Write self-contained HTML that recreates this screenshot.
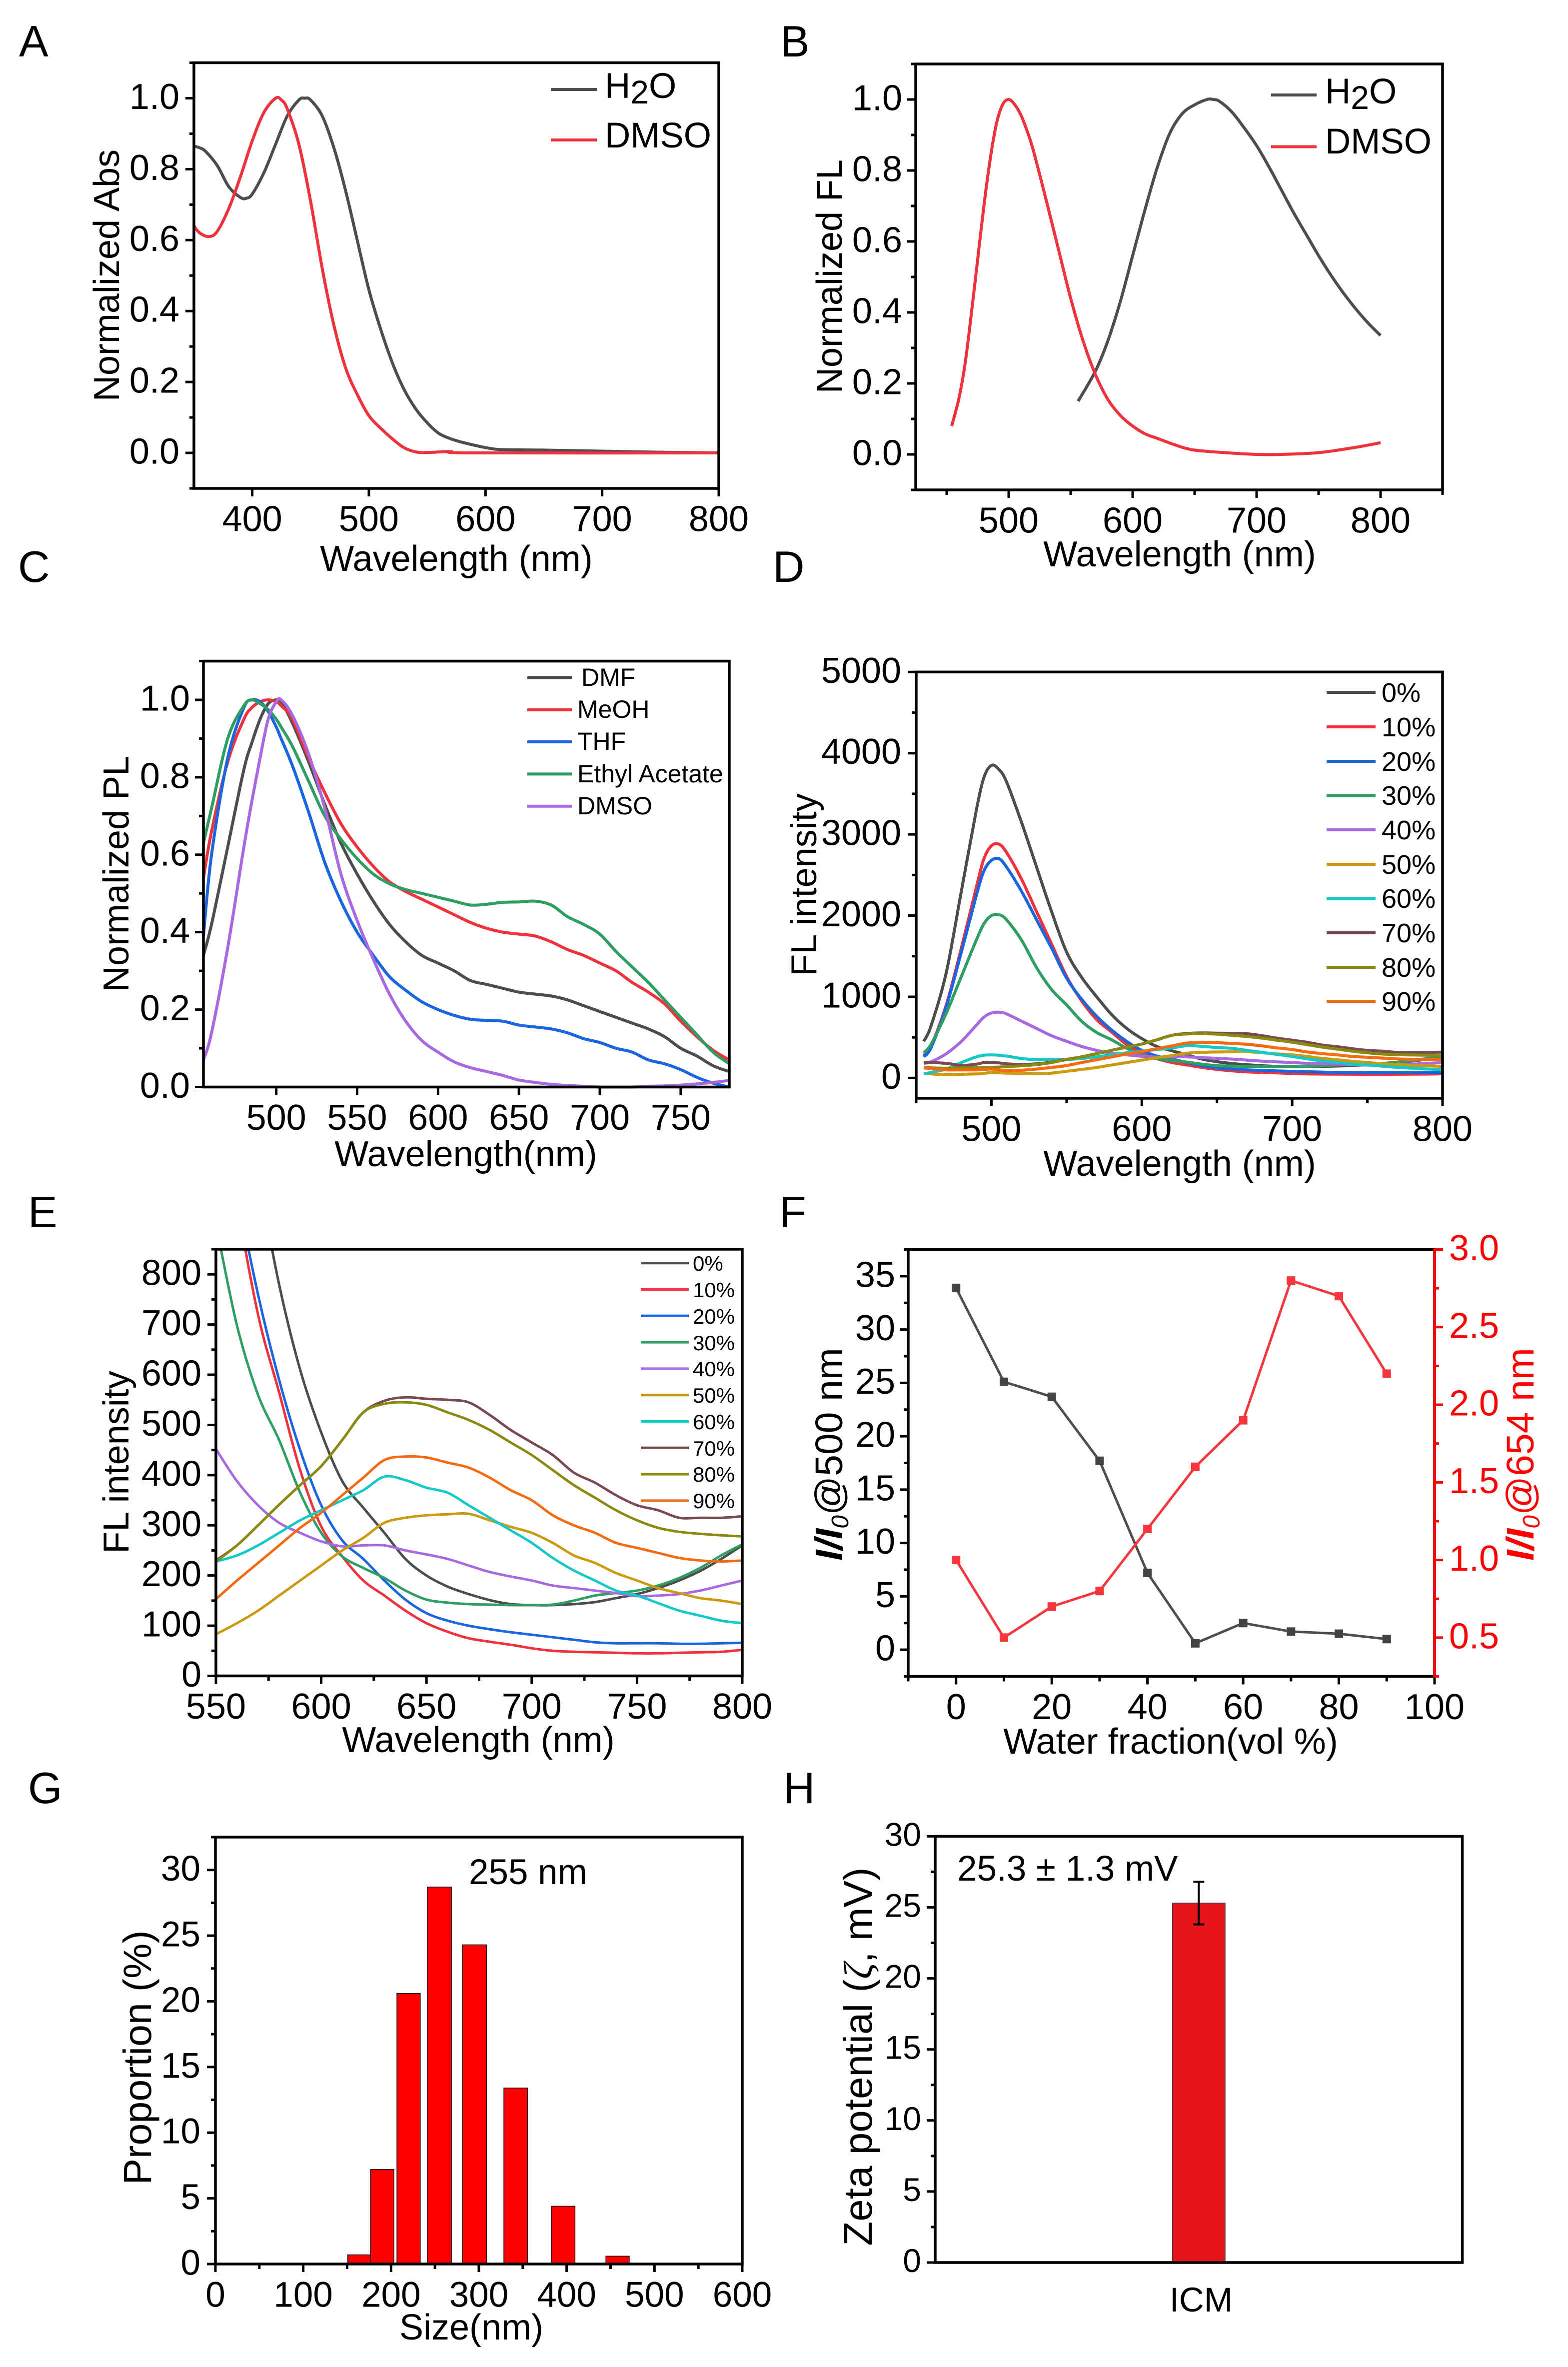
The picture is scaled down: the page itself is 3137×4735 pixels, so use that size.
<!DOCTYPE html>
<html lang="en">
<head>
<meta charset="utf-8">
<title>Photophysical characterization panels A to H</title>
<style>
html,body{margin:0;padding:0;background:#fff;}
svg{display:block;}
text{font-family:"Liberation Sans",Arial,sans-serif;fill:#000;}
.pl{font-size:88px;}
.t{font-size:72px;}
.w{font-size:72px;text-anchor:middle;}
</style>
</head>
<body>
<svg xmlns="http://www.w3.org/2000/svg" width="3137" height="4735" viewBox="0 0 3137 4735">
<defs>
<clipPath id="clip-e"><rect x="432" y="2499" width="1053" height="853"/></clipPath>
</defs>
<rect width="3137" height="4735" fill="#fff"/>

<g>
<g id="plot-a"></g>
<text class="pl" x="38" y="113">A</text>
<text class="w" x="913" y="1142">Wavelength (nm)</text>
<text class="t" text-anchor="middle" transform="translate(238,551) rotate(-90)">Normalized Abs</text>
<line x1="1102" x2="1194" y1="179" y2="179" stroke="#4d4d4d" stroke-width="6"/>
<text x="1210" y="196" font-size="71">H<tspan dy="11" font-size="66">2</tspan><tspan dy="-11">O</tspan></text>
<line x1="1102" x2="1194" y1="280" y2="280" stroke="#f0323c" stroke-width="6"/>
<text x="1210" y="295" font-size="71">DMSO</text>
</g>

<g>
<g id="plot-b"></g>
<text class="pl" x="1561" y="113">B</text>
<text class="w" x="2360" y="1133">Wavelength (nm)</text>
<text class="t" text-anchor="middle" transform="translate(1684,553) rotate(-90)">Normalized FL</text>
<line x1="2543" x2="2634" y1="190" y2="190" stroke="#4d4d4d" stroke-width="6"/>
<text x="2651" y="207" font-size="71">H<tspan dy="11" font-size="66">2</tspan><tspan dy="-11">O</tspan></text>
<line x1="2543" x2="2634" y1="293.5" y2="293.5" stroke="#f0323c" stroke-width="6"/>
<text x="2651" y="307" font-size="71">DMSO</text>
</g>

<g>
<g id="plot-c"></g>
<text class="pl" x="36" y="1164">C</text>
<text class="w" x="932" y="2333">Wavelength(nm)</text>
<text class="t" text-anchor="middle" transform="translate(257,1748) rotate(-90)">Normalized PL</text>
<g font-size="50">
<line x1="1055" x2="1144" y1="1355.5" y2="1355.5" stroke="#4d4d4d" stroke-width="6"/>
<text x="1163" y="1372">DMF</text>
<line x1="1055" x2="1144" y1="1420" y2="1420" stroke="#f0323c" stroke-width="6"/>
<text x="1155" y="1436">MeOH</text>
<line x1="1055" x2="1144" y1="1484" y2="1484" stroke="#1a66e0" stroke-width="6"/>
<text x="1155" y="1500">THF</text>
<line x1="1055" x2="1144" y1="1548.4" y2="1548.4" stroke="#2e9e62" stroke-width="6"/>
<text x="1155" y="1565">Ethyl Acetate</text>
<line x1="1055" x2="1144" y1="1612.7" y2="1612.7" stroke="#a868e0" stroke-width="6"/>
<text x="1155" y="1629">DMSO</text>
</g>
</g>

<g>
<g id="plot-d"></g>
<text class="pl" x="1546" y="1164">D</text>
<text class="w" x="2360" y="2352">Wavelength (nm)</text>
<text class="t" text-anchor="middle" transform="translate(1633,1770) rotate(-90)">FL intensity</text>
<g font-size="54">
<line x1="2654" x2="2752" y1="1385" y2="1385" stroke="#4d4d4d" stroke-width="6"/>
<text x="2764" y="1404">0%</text>
<line x1="2654" x2="2752" y1="1454" y2="1454" stroke="#f0323c" stroke-width="6"/>
<text x="2764" y="1473">10%</text>
<line x1="2654" x2="2752" y1="1523" y2="1523" stroke="#1a66e0" stroke-width="6"/>
<text x="2764" y="1542">20%</text>
<line x1="2654" x2="2752" y1="1591.5" y2="1591.5" stroke="#2e9e62" stroke-width="6"/>
<text x="2764" y="1610">30%</text>
<line x1="2654" x2="2752" y1="1660" y2="1660" stroke="#a868e0" stroke-width="6"/>
<text x="2764" y="1679">40%</text>
<line x1="2654" x2="2752" y1="1729" y2="1729" stroke="#cc9a10" stroke-width="6"/>
<text x="2764" y="1748">50%</text>
<line x1="2654" x2="2752" y1="1797.5" y2="1797.5" stroke="#14c8c8" stroke-width="6"/>
<text x="2764" y="1816">60%</text>
<line x1="2654" x2="2752" y1="1866" y2="1866" stroke="#7a4a50" stroke-width="6"/>
<text x="2764" y="1885">70%</text>
<line x1="2654" x2="2752" y1="1935" y2="1935" stroke="#8a8a10" stroke-width="6"/>
<text x="2764" y="1954">80%</text>
<line x1="2654" x2="2752" y1="2003" y2="2003" stroke="#f86a10" stroke-width="6"/>
<text x="2764" y="2022">90%</text>
</g>
</g>

<g>
<g id="plot-e"></g>
<text class="pl" x="56" y="2455">E</text>
<text class="w" x="957" y="3505">Wavelength (nm)</text>
<text class="t" text-anchor="middle" transform="translate(257,2925) rotate(-90)">FL intensity</text>
<g font-size="42">
<line x1="1282" x2="1378" y1="2526.7" y2="2526.7" stroke="#4d4d4d" stroke-width="5"/>
<text x="1386" y="2542">0%</text>
<line x1="1282" x2="1378" y1="2579.5" y2="2579.5" stroke="#f0323c" stroke-width="5"/>
<text x="1386" y="2595">10%</text>
<line x1="1282" x2="1378" y1="2632.3" y2="2632.3" stroke="#1a66e0" stroke-width="5"/>
<text x="1386" y="2648">20%</text>
<line x1="1282" x2="1378" y1="2685.1" y2="2685.1" stroke="#2e9e62" stroke-width="5"/>
<text x="1386" y="2701">30%</text>
<line x1="1282" x2="1378" y1="2737.9" y2="2737.9" stroke="#a868e0" stroke-width="5"/>
<text x="1386" y="2753">40%</text>
<line x1="1282" x2="1378" y1="2790.7" y2="2790.7" stroke="#cc9a10" stroke-width="5"/>
<text x="1386" y="2806">50%</text>
<line x1="1282" x2="1378" y1="2843.5" y2="2843.5" stroke="#14c8c8" stroke-width="5"/>
<text x="1386" y="2859">60%</text>
<line x1="1282" x2="1378" y1="2896.3" y2="2896.3" stroke="#7a4a50" stroke-width="5"/>
<text x="1386" y="2912">70%</text>
<line x1="1282" x2="1378" y1="2949.1" y2="2949.1" stroke="#8a8a10" stroke-width="5"/>
<text x="1386" y="2964">80%</text>
<line x1="1282" x2="1378" y1="3001.9" y2="3001.9" stroke="#f86a10" stroke-width="5"/>
<text x="1386" y="3017">90%</text>
</g>
</g>

<g>
<g id="plot-f"></g>
<text class="pl" x="1559" y="2455">F</text>
<text class="t" text-anchor="middle" x="2342" y="3508">Water fraction(vol %)</text>
<text font-size="77" text-anchor="middle" transform="translate(1685,2909) rotate(-90)"><tspan font-weight="bold" font-style="italic">I/I</tspan><tspan font-style="italic" font-size="48" dy="12">0</tspan><tspan dy="-12">@500 nm</tspan></text>
<text font-size="77" text-anchor="middle" transform="translate(3068,2909) rotate(-90)" style="fill:#ff0000"><tspan font-weight="bold" font-style="italic" style="fill:#ff0000">I/I</tspan><tspan font-style="italic" font-size="48" dy="12" style="fill:#ff0000">0</tspan><tspan dy="-12" style="fill:#ff0000">@654 nm</tspan></text>
</g>

<g>
<g id="plot-g"></g>
<text class="pl" x="56" y="3607">G</text>
<text class="t" text-anchor="middle" x="943" y="4680">Size(nm)</text>
<text font-size="79" text-anchor="middle" transform="translate(302,4116) rotate(-90)">Proportion (%)</text>
<text x="938" y="3769" font-size="71">255 nm</text>
</g>

<g>
<g id="plot-h"></g>
<text class="pl" x="1567" y="3607">H</text>
<text font-size="80" text-anchor="middle" transform="translate(1744,4114) rotate(-90)">Zeta potential (<tspan font-style="italic" font-family="Liberation Serif, serif">ζ</tspan>, mV)</text>
<text x="1915" y="3762" font-size="71">25.3 ± 1.3 mV</text>
<text x="2403" y="4624" font-size="69" text-anchor="middle">ICM</text>
</g>
</svg>

<script>
/* ---------- Panel A ---------- */
const aWaveH2O=[350,355,360,370,380,390,395,400,410,420,430,440,445,450,460,470,480,490,500,510,520,530,540,550,560,570,580,590,600,610,620,650,700,750,800];
const aH2O=[.865,.86,.85,.81,.75,.72,.718,.73,.79,.87,.95,.995,1,.995,.95,.86,.74,.6,.46,.35,.255,.18,.125,.085,.055,.04,.03,.022,.015,.01,.009,.008,.005,.002,0];
const aWaveDMSO=[350,355,363,370,380,390,400,410,420,425,430,440,450,460,470,480,490,500,510,520,530,540,550,570,590,800];
const aDMSO=[.64,.62,.61,.625,.69,.78,.88,.96,1,.995,.97,.87,.71,.52,.36,.24,.165,.105,.07,.04,.015,.003,.001,.004,0,0];
const aXTicks=[400,500,600,700,800];
const aYTicks=[0,.2,.4,.6,.8,1];
const aYMinor=[-.1,.1,.3,.5,.7,.9,1.1];

/* ---------- Panel B ---------- */
const bWaveH2O=[556,570,580,590,600,610,620,630,640,650,660,665,670,680,690,700,710,720,730,740,750,760,770,780,790,800];
const bH2O=[.15,.235,.32,.43,.56,.69,.81,.905,.96,.985,1,1,.995,.965,.92,.87,.81,.745,.68,.62,.56,.505,.455,.41,.37,.335];
const bWaveDMSO=[454,460,465,470,475,480,485,490,495,500,505,510,515,520,530,540,550,560,570,580,590,600,610,620,630,640,650,670,700,720,750,780,800];
const bDMSO=[.08,.16,.26,.4,.55,.7,.83,.93,.985,1,.985,.955,.91,.855,.72,.58,.44,.32,.225,.155,.11,.08,.058,.045,.032,.02,.012,.006,0,0,.005,.02,.033];
const bXTicks=[500,600,700,800];
const bXMinor=[450,550,650,750,850];
const bYTicks=[0,.2,.4,.6,.8,1];
const bYMinor=[-.1,.1,.3,.5,.7,.9,1.1];

/* ---------- Panel C ---------- */
const cWave=[455,460,470,480,485,490,495,500,503,510,520,530,540,550,560,570,580,590,600,610,620,630,640,650,660,670,680,690,700,710,720,730,740,750,760,770,780];
const cDMF=[.34,.42,.62,.82,.89,.95,.99,1,.995,.94,.84,.73,.63,.55,.48,.42,.375,.34,.32,.30,.275,.265,.255,.245,.24,.235,.225,.21,.195,.18,.165,.15,.13,.10,.08,.055,.04];
const cMeOH=[.54,.66,.84,.95,.98,.995,1,.995,.985,.95,.85,.76,.68,.62,.57,.53,.505,.485,.465,.445,.425,.41,.40,.395,.39,.375,.355,.34,.32,.30,.27,.245,.215,.17,.13,.095,.07];
const cTHF=[.39,.6,.85,.98,1,.995,.97,.93,.90,.83,.71,.58,.48,.40,.34,.285,.25,.22,.20,.185,.175,.172,.17,.16,.155,.15,.14,.125,.115,.10,.09,.07,.06,.045,.025,.01,0];
const cEA=[.63,.72,.9,.985,1,.99,.975,.95,.93,.88,.79,.70,.64,.59,.55,.525,.51,.5,.49,.48,.47,.472,.477,.478,.48,.47,.44,.42,.395,.35,.31,.27,.225,.18,.135,.09,.06];
const cDMSO=[.07,.14,.36,.62,.74,.85,.95,.995,1,.96,.86,.72,.55,.43,.33,.24,.17,.12,.09,.065,.05,.04,.03,.018,.012,.007,.004,.002,0,0,0,.002,.003,.005,.008,.012,.017];
const cXTicks=[500,550,600,650,700,750];
const cYTicks=[0,.2,.4,.6,.8,1];
const cYMinor=[.1,.3,.5,.7,.9,1.1];

/* ---------- Panels D and E share the water-fraction spectra ---------- */
const dWave=[455,460,470,480,490,495,500,505,510,520,530,540,550,560,570,580,590,600,610,620,630,640,650,660,670,680,690,700,710,720,730,740,750,760,770,780,790,800];
const d0=[450,650,1300,2300,3300,3700,3850,3800,3650,3150,2600,2050,1550,1240,1000,780,610,485,388,335,285,233,200,178,163,151,143,141,141,143,147,155,163,175,190,209,233,260];
const d10=[280,400,900,1600,2350,2700,2860,2880,2780,2450,2050,1650,1250,950,720,565,410,298,238,190,160,130,105,88,75,68,62,55,50,48,47,46,45,45,46,47,48,52];
const d20=[260,380,880,1550,2250,2550,2680,2700,2600,2300,1950,1600,1230,970,760,590,450,340,270,233,190,152,125,110,100,93,87,82,77,72,67,65,65,65,64,64,65,66];
const d30=[310,420,800,1250,1700,1900,2000,2010,1950,1700,1360,1090,900,698,560,470,365,285,238,215,195,170,152,146,143,142,141,141,142,150,160,165,170,180,195,215,240,262];
const d40=[180,200,300,450,650,750,800,810,790,700,610,520,452,388,340,305,285,268,258,260,260,250,242,233,220,207,198,190,180,175,170,165,159,160,163,170,180,190];
const d50=[55,50,40,45,50,55,70,65,60,55,55,60,83,105,130,160,190,220,250,275,305,315,320,322,323,310,297,285,265,240,225,205,190,175,165,155,150,143];
const d60=[50,70,110,190,260,280,285,280,270,240,225,225,228,240,260,285,310,330,350,370,397,390,375,365,340,315,290,265,235,210,190,170,160,145,130,120,110,105];
const d70=[190,190,180,155,170,190,190,185,175,165,175,195,230,260,300,341,380,418,470,525,548,555,552,550,545,520,490,465,440,405,385,360,340,330,315,315,315,318];
const d80=[130,125,120,125,130,130,130,135,140,150,165,190,228,260,300,341,380,418,470,525,542,545,540,525,510,490,465,440,410,380,355,330,310,295,287,283,280,278];
const d90=[125,115,100,100,100,105,110,100,90,95,110,130,153,190,225,260,295,325,360,395,430,437,435,425,415,395,370,350,320,300,285,265,255,245,235,230,228,230];
const fractionLabels=["0","10","20","30","40","50","60","70","80","90"];
const dXTicks=[500,600,700,800];
const dXMinor=[450,550,650,750];
const dYTicks=[0,1000,2000,3000,4000,5000];
const dYMinor=[500,1500,2500,3500,4500];
const eXTicks=[550,600,650,700,750,800];
const eXMinor=[575,625,675,725,775];
const eYTicks=[0,100,200,300,400,500,600,700,800];
const eYMinor=[50,150,250,350,450,550,650,750,850];

/* ---------- Panel F ---------- */
const fFraction=[0,10,20,30,40,50,60,70,80,90];
const fBlack500=[33.9,25.1,23.7,17.7,7.2,.6,2.5,1.7,1.5,1.0];
const fRed654=[1.0,.5,.7,.8,1.2,1.6,1.9,2.8,2.7,2.2];
const fXTicks=[0,20,40,60,80,100];
const fXMinor=[-10,10,30,50,70,90];
const fYTicks=[0,5,10,15,20,25,30,35];
const fYMinor=[2.5,7.5,12.5,17.5,22.5,27.5,32.5,37.5,-2.5];
const fRTicks=[.5,1,1.5,2,2.5,3];
const fRMinor=[.25,.75,1.25,1.75,2.25,2.75];

/* ---------- Panel G ---------- */
const gSizes=[164,190,220,255,295,342,396,458];
const gProportion=[.7,7.2,20.6,28.7,24.3,13.4,4.4,.6];
const gBinWidth=[26.6,26.6,26.6,27.5,27.5,27,27,26.6];
const gXTicks=[0,100,200,300,400,500,600];
const gXMinor=[50,150,250,350,450,550];
const gYTicks=[0,5,10,15,20,25,30];
const gYMinor=[2.5,7.5,12.5,17.5,22.5,27.5,32.5];

/* ---------- Panel H ---------- */
const hZeta=[25.3];
const hError=[1.5];
const hYTicks=[0,5,10,15,20,25,30];
const hYMinor=[2.5,7.5,12.5,17.5,22.5,27.5];

/* ---------- Series colours ---------- */
const GREY='#4d4d4d',RED='#f0323c',BLUE='#1a66e0',GREEN='#2e9e62',PURPLE='#a868e0',
      GOLD='#cc9a10',CYAN='#14c8c8',BROWN='#7a4a50',OLIVE='#8a8a10',ORANGE='#f86a10';

const NS='http://www.w3.org/2000/svg';
function mk(parent,tag,name,attrs){
  const el=document.createElementNS(NS,tag);
  for(const k in attrs){el.setAttribute(k,attrs[k]);}
  
  
  parent.appendChild(el);
  return el;
}
function scale(d0,d1,r0,r1){return v=>r0+(v-d0)*(r1-r0)/(d1-d0);}
function smoothPath(xs,ys){
  const n=xs.length;
  let d='M'+xs[0].toFixed(1)+' '+ys[0].toFixed(1);
  for(let i=0;i<n-1;i++){
    const p0=Math.max(i-1,0),p3=Math.min(i+2,n-1);
    const c1x=xs[i]+(xs[i+1]-xs[p0])/6,c1y=ys[i]+(ys[i+1]-ys[p0])/6;
    const c2x=xs[i+1]-(xs[p3]-xs[i])/6,c2y=ys[i+1]-(ys[p3]-ys[i])/6;
    d+='C'+c1x.toFixed(1)+' '+c1y.toFixed(1)+' '+c2x.toFixed(1)+' '+c2y.toFixed(1)+' '+xs[i+1].toFixed(1)+' '+ys[i+1].toFixed(1);
  }
  return d;
}
function curve(g,name,wave,vals,X,Y,color,width,clip){
  const attrs={d:smoothPath(wave.map(X),vals.map(Y)),fill:'none',stroke:color,'stroke-width':width,'stroke-linejoin':'round'};
  if(clip){attrs['clip-path']=clip;}
  mk(g,'path',name,attrs);
}
function axes(g,o){
  const X=o.X,Y=o.Y,col='#000',sw=5.5;
  const ticks=mk(g,'g',o.id+'-ticks',{stroke:col,'stroke-width':5});
  (o.xTicks||[]).forEach(v=>{mk(ticks,'line','x-tick',{x1:X(v),x2:X(v),y1:o.B,y2:o.B+16});});
  (o.xMinor||[]).forEach(v=>{mk(ticks,'line','x-minor-tick',{x1:X(v),x2:X(v),y1:o.B,y2:o.B+10});});
  (o.yTicks||[]).forEach(v=>{mk(ticks,'line','y-tick',{x1:o.L-17,x2:o.L,y1:Y(v),y2:Y(v)});});
  (o.yMinor||[]).forEach(v=>{mk(ticks,'line','y-minor-tick',{x1:o.L-9,x2:o.L,y1:Y(v),y2:Y(v)});});
  mk(g,'rect',o.id+'-frame',{x:o.L,y:o.T,width:o.R-o.L,height:o.B-o.T,fill:'none',stroke:col,'stroke-width':sw});
  const fs=o.fs||72;
  (o.xTicks||[]).forEach(v=>{
    const t=mk(g,'text','x-tick-label',{x:X(v),y:o.B+85.5,'text-anchor':'middle','font-size':fs});
    t.textContent=String(v);
  });
  (o.yTicks||[]).forEach(v=>{
    const t=mk(g,'text','y-tick-label',{x:o.L-o.gap,y:Y(v)+(o.dy||21.5),'text-anchor':'end','font-size':fs});
    t.textContent=o.dec?v.toFixed(o.dec):String(v);
  });
}

/* A */
(function(){
  const g=document.getElementById('plot-a');
  const L=388,R=1438,T=125.5,B=977;
  const X=scale(350,800,L,R),Y=scale(-.1,1.1,B,T);
  curve(g,'series-h2o-abs',aWaveH2O,aH2O,X,Y,GREY,6);
  curve(g,'series-dmso-abs',aWaveDMSO,aDMSO,X,Y,RED,6);
  axes(g,{id:'a',L,R,T,B,X,Y,xTicks:aXTicks,yTicks:aYTicks,yMinor:aYMinor,dec:1,gap:29});
})();

/* B */
(function(){
  const g=document.getElementById('plot-b');
  const L=1832,R=2886,T=128,B=980;
  const X=scale(425,850,L,R),Y=scale(-.1,1.1,B,T);
  curve(g,'series-h2o-fl',bWaveH2O,bH2O,X,Y,GREY,6);
  curve(g,'series-dmso-fl',bWaveDMSO,bDMSO,X,Y,RED,6);
  axes(g,{id:'b',L,R,T,B,X,Y,xTicks:bXTicks,xMinor:bXMinor,yTicks:bYTicks,yMinor:bYMinor,dec:1,gap:27});
})();

/* C */
(function(){
  const g=document.getElementById('plot-c');
  const L=407,R=1459,T=1322.5,B=2174.5;
  const X=scale(455,780,L,R),Y=scale(0,1.1,B,T);
  curve(g,'series-dmf',cWave,cDMF,X,Y,GREY,6);
  curve(g,'series-meoh',cWave,cMeOH,X,Y,RED,6);
  curve(g,'series-thf',cWave,cTHF,X,Y,BLUE,6);
  curve(g,'series-ethyl-acetate',cWave,cEA,X,Y,GREEN,6);
  curve(g,'series-dmso-pl',cWave,cDMSO,X,Y,PURPLE,6);
  axes(g,{id:'c',L,R,T,B,X,Y,xTicks:cXTicks,yTicks:cYTicks,yMinor:cYMinor,dec:1,gap:27});
})();

const fractionSeries=[d0,d10,d20,d30,d40,d50,d60,d70,d80,d90];
const fractionColors=[GREY,RED,BLUE,GREEN,PURPLE,GOLD,CYAN,BROWN,OLIVE,ORANGE];

/* D */
(function(){
  const g=document.getElementById('plot-d');
  const L=1833,R=2886,T=1344.3,B=2197;
  const X=scale(450,800,L,R),Y=scale(-250,5000,B,T);
  fractionSeries.forEach((vals,i)=>{curve(g,'series-d-'+fractionLabels[i]+'-percent',dWave,vals,X,Y,fractionColors[i],6);});
  axes(g,{id:'d',L,R,T,B,X,Y,xTicks:dXTicks,xMinor:dXMinor,yTicks:dYTicks,yMinor:dYMinor,gap:30});
})();

/* E */
(function(){
  const g=document.getElementById('plot-e');
  const L=432,R=1485,T=2499,B=3352.5;
  const X=scale(550,800,L,R),Y=scale(0,850,B,T);
  const start=dWave.indexOf(550);
  const wave=dWave.slice(start);
  fractionSeries.forEach((vals,i)=>{curve(g,'series-e-'+fractionLabels[i]+'-percent',wave,vals.slice(start),X,Y,fractionColors[i],5,'url(#clip-e)');});
  axes(g,{id:'e',L,R,T,B,X,Y,xTicks:eXTicks,xMinor:eXMinor,yTicks:eYTicks,yMinor:eYMinor,gap:29});
})();

/* F */
(function(){
  const g=document.getElementById('plot-f');
  const L=1817,R=2870,T=2499.5,B=3353.5;
  const X=scale(-10,100,L,R),Y=scale(-2.5,37.5,B,T),Y2=scale(.25,3,B,T);
  const REDF='#f5363c';
  mk(g,'path','series-intensity-500',{d:'M'+fFraction.map((v,i)=>X(v).toFixed(1)+' '+Y(fBlack500[i]).toFixed(1)).join('L'),fill:'none',stroke:GREY,'stroke-width':5});
  fFraction.forEach((v,i)=>{mk(g,'rect','point-500-nm',{x:X(v)-8.5,y:Y(fBlack500[i])-8.5,width:17,height:17,fill:'#444'});});
  mk(g,'path','series-intensity-654',{d:'M'+fFraction.map((v,i)=>X(v).toFixed(1)+' '+Y2(fRed654[i]).toFixed(1)).join('L'),fill:'none',stroke:REDF,'stroke-width':5});
  fFraction.forEach((v,i)=>{mk(g,'rect','point-654-nm',{x:X(v)-8.5,y:Y2(fRed654[i])-8.5,width:17,height:17,fill:REDF});});
  axes(g,{id:'f',L,R,T,B,X,Y,xTicks:fXTicks,xMinor:fXMinor,yTicks:fYTicks,yMinor:fYMinor,gap:26});
  const red='#ff0000';
  mk(g,'line','right-axis-line',{x1:R,x2:R,y1:T-2,y2:B+2,stroke:red,'stroke-width':5.5});
  fRTicks.forEach(v=>{
    mk(g,'line','right-tick',{x1:R,x2:R+17,y1:Y2(v),y2:Y2(v),stroke:red,'stroke-width':5});
    const t=mk(g,'text','right-tick-label',{x:R+29,y:Y2(v)+21.5,'font-size':72,style:'fill:#ff0000'});
    t.textContent=v.toFixed(1);
  });
  fRMinor.forEach(v=>{mk(g,'line','right-minor-tick',{x1:R,x2:R+9,y1:Y2(v),y2:Y2(v),stroke:red,'stroke-width':5});});
})();

/* G */
(function(){
  const g=document.getElementById('plot-g');
  const L=431,R=1485,T=3675,B=4529;
  const X=scale(0,600,L,R),Y=scale(0,32.5,B,T);
  gSizes.forEach((s,i)=>{
    mk(g,'rect','size-bar-'+s,{x:X(s-gBinWidth[i]/2),y:Y(gProportion[i]),width:X(gBinWidth[i])-X(0),height:B-Y(gProportion[i]),fill:'#ff0000',stroke:'#111','stroke-width':1.5});
  });
  axes(g,{id:'g',L,R,T,B,X,Y,xTicks:gXTicks,xMinor:gXMinor,yTicks:gYTicks,yMinor:gYMinor,gap:30,fs:71});
})();

/* H */
(function(){
  const g=document.getElementById('plot-h');
  const L=1871,R=2925.6,T=3673.4,B=4526;
  const X=scale(0,2,L,R),Y=scale(0,30,B,T);
  const bx=X(1-.1),bw=X(.2)-X(0);
  mk(g,'rect','zeta-bar',{x:bx,y:Y(hZeta[0]),width:bw,height:B-Y(hZeta[0]),fill:'#e8141c',stroke:'#444','stroke-width':1.5});
  const up=Y(hZeta[0]+hError[0]),dn=Y(hZeta[0]-hError[0]),cx=X(1);
  mk(g,'line','error-bar-stem',{x1:cx,x2:cx,y1:up,y2:dn,stroke:'#000','stroke-width':4});
  mk(g,'line','error-bar-cap-top',{x1:cx-11,x2:cx+11,y1:up,y2:up,stroke:'#000','stroke-width':4});
  mk(g,'line','error-bar-cap-bottom',{x1:cx-11,x2:cx+11,y1:dn,y2:dn,stroke:'#000','stroke-width':4});
  axes(g,{id:'h',L,R,T,B,X,Y,yTicks:hYTicks,yMinor:hYMinor,gap:28,fs:66,dy:19});
})();
</script>
</body>
</html>
